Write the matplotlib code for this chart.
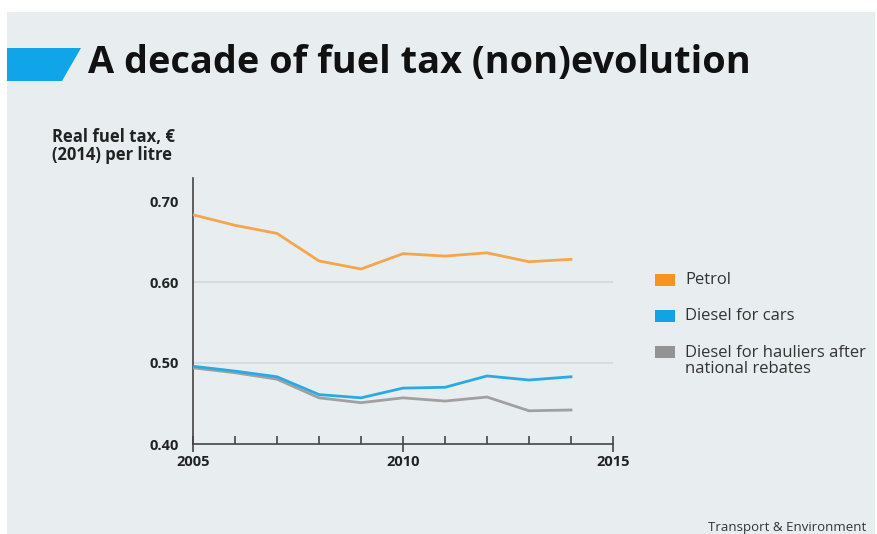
import matplotlib.pyplot as plt
from matplotlib.patches import Polygon, Rectangle

plt.rcParams['font.family'] = ['Open Sans', 'DejaVu Sans']

years = [2005, 2006, 2007, 2008, 2009, 2010, 2011, 2012, 2013, 2014]
petrol = [0.683, 0.670, 0.660, 0.626, 0.616, 0.635, 0.632, 0.636, 0.625, 0.628]
diesel_cars = [0.496, 0.490, 0.483, 0.461, 0.457, 0.469, 0.470, 0.484, 0.479, 0.483]
diesel_hauliers = [0.494, 0.488, 0.480, 0.457, 0.451, 0.457, 0.453, 0.458, 0.441, 0.442]

series_names = ['Petrol', 'Diesel for cars', 'Diesel for hauliers after\nnational rebates']
line_colors = ['#f5a54a', '#2aaae4', '#a0a0a0']
box_colors = ['#f7941d', '#12a3e6', '#939393']

yticks = [0.40, 0.50, 0.60, 0.70]
xticks = [2005, 2010, 2015]

bg = '#e8eef0'
ink = '#222222'

fig = plt.figure(figsize=(8.78, 5.34), dpi=100)
fig.patch.set_facecolor('white')
W, H = 878, 534

def fx(px): return px / W
def fy(py): return 1 - py / H

# background panel
fig.patches.append(Rectangle((fx(7), 0), fx(875) - fx(7), fy(12), transform=fig.transFigure,
                             facecolor=bg, edgecolor='none', zorder=-10))
# blue tab next to title
fig.patches.append(Polygon([(fx(7), fy(48)), (fx(81), fy(48)), (fx(62), fy(81)), (fx(7), fy(81))],
                           closed=True, transform=fig.transFigure, facecolor='#10a5e8',
                           edgecolor='none'))
fig.text(fx(88), fy(63), 'A decade of fuel tax (non)evolution', fontsize=27.3, fontweight='bold',
         color='#111111', va='center', ha='left')

ax = fig.add_axes([fx(193), fy(444), fx(613) - fx(193), fy(178) - fy(444)])
ax.set_facecolor('none')
ax.set_xlim(2005, 2015)
ax.set_ylim(0.40, 0.40 + (444 - 178) / 810)

for v in yticks[1:3]:
    ax.axhline(v, color='#d3d8da', lw=1.2, zorder=1)

ax.plot(years, petrol, color=line_colors[0], lw=2, zorder=3)
ax.plot(years, diesel_hauliers, color=line_colors[2], lw=2, zorder=3)
ax.plot(years, diesel_cars, color=line_colors[1], lw=2, zorder=4)

for s in ['top', 'right']:
    ax.spines[s].set_visible(False)
ax.spines['left'].set_color('#444444')
ax.spines['bottom'].set_color('#444444')
ax.spines['left'].set_linewidth(1.2)
ax.spines['bottom'].set_linewidth(1.2)

ax.set_yticks(yticks)
ax.set_yticklabels(['%.2f' % v for v in yticks])
ax.tick_params(axis='y', length=0, pad=10, labelsize=10.5, labelcolor=ink)
ax.set_xticks(xticks)
ax.set_xticks(years[1:], minor=True)
ax.tick_params(axis='x', which='major', direction='inout', length=12, width=1.2,
               color='#444444', labelsize=10.5, labelcolor=ink, pad=2)
ax.tick_params(axis='x', which='minor', direction='in', length=6, width=1.2, color='#444444')
for lab in ax.get_xticklabels() + ax.get_yticklabels():
    lab.set_fontweight('bold')

fig.text(fx(52), fy(146), 'Real fuel tax, €\n(2014) per litre', fontsize=12, fontweight='bold',
         color=ink, va='center', ha='left', linespacing=1.05)

# legend
leg_y = [280, 316, 352]
for name, c, py in zip(series_names, box_colors, leg_y):
    fig.patches.append(Rectangle((fx(655), fy(py + 6)), fx(20), fy(py - 6) - fy(py + 6),
                                 transform=fig.transFigure, facecolor=c, edgecolor='none'))
    fig.text(fx(685), fy(py - 7) if '\n' in name else fy(py), name, fontsize=12, color='#333333',
             va='top' if '\n' in name else 'center', ha='left', linespacing=1.0)

fig.text(fx(866), fy(527), 'Transport & Environment', fontsize=9.5, color='#333333',
         ha='right', va='center')

fig.savefig('out.png', dpi=100, facecolor=fig.get_facecolor())
